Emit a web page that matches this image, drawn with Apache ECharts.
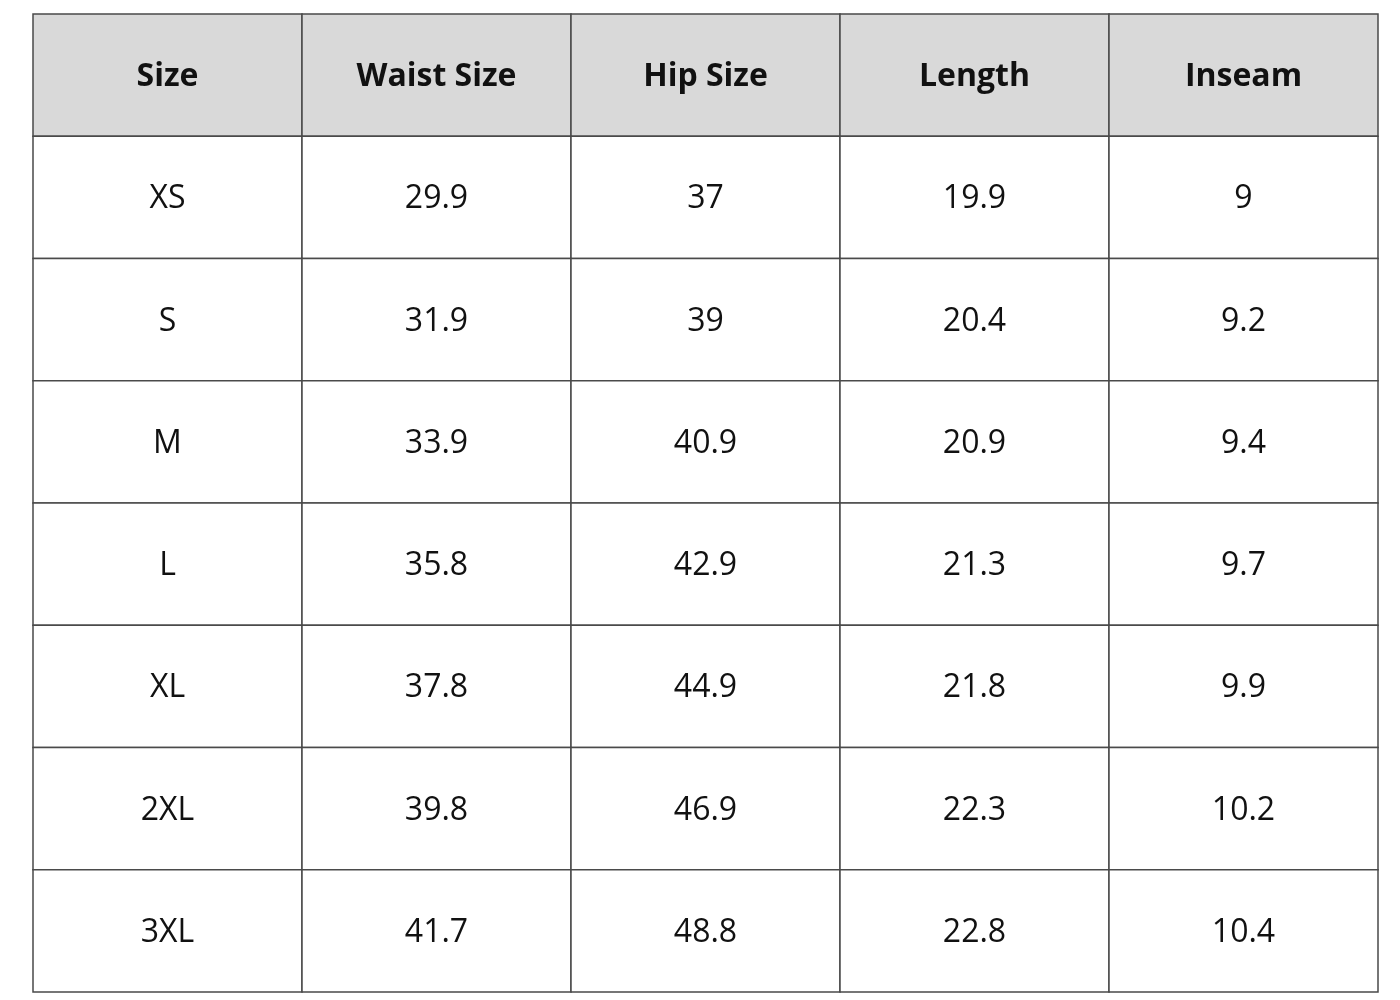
<!DOCTYPE html>
<html><head><meta charset="utf-8">
<script src="https://cdn.jsdelivr.net/npm/echarts@6/dist/echarts.min.js"></script>
<style>html,body{margin:0;padding:0;background:#fff}#c{width:1400px;height:1000px}</style>
</head><body><div id="c"></div>
<script>
const headers = ["Size","Waist Size","Hip Size","Length","Inseam"];
const sizes = ["XS","S","M","L","XL","2XL","3XL"];
const waist = ["29.9","31.9","33.9","35.8","37.8","39.8","41.7"];
const hip = ["37","39","40.9","42.9","44.9","46.9","48.8"];
const length = ["19.9","20.4","20.9","21.3","21.8","22.3","22.8"];
const inseam = ["9","9.2","9.4","9.7","9.9","10.2","10.4"];

const rows = ["header"].concat(sizes);
const cols = headers.map((h,i)=>"c"+i);
const columns = [sizes, waist, hip, length, inseam];
const data = [];
headers.forEach((h,ci)=>data.push([ci,0,h,1]));
for (let r=0;r<sizes.length;r++) for (let c=0;c<5;c++) data.push([c,r+1,columns[c][r],0]);

const chart = echarts.init(document.getElementById('c'));
chart.setOption({
  animation:false,
  grid:{left:33,top:14,width:1345,height:978},
  xAxis:{type:'category',data:cols,show:false},
  yAxis:{type:'category',data:rows,inverse:true,show:false},
  series:[{
    type:'custom',
    data:data,
    renderItem:function(params,api){
      const c=api.coord([api.value(0),api.value(1)]);
      const s=api.size([1,1]);
      const isH=api.value(3)===1;
      return {type:'group',children:[
        {type:'rect',shape:{x:c[0]-s[0]/2,y:c[1]-s[1]/2,width:s[0],height:s[1]},
         style:{fill:isH?'#d9d9d9':'#ffffff',stroke:'#4a4a4a',lineWidth:1.5}},
        {type:'text',x:c[0],y:c[1]+2,style:{text:String(data[params.dataIndex][2]),
          fill:'#111',font:(isH?'bold 32px':'32px')+' "Open Sans", Lato, sans-serif',
          align:'center',verticalAlign:'middle'}}
      ]};
    }
  }]
});
</script></body></html>
